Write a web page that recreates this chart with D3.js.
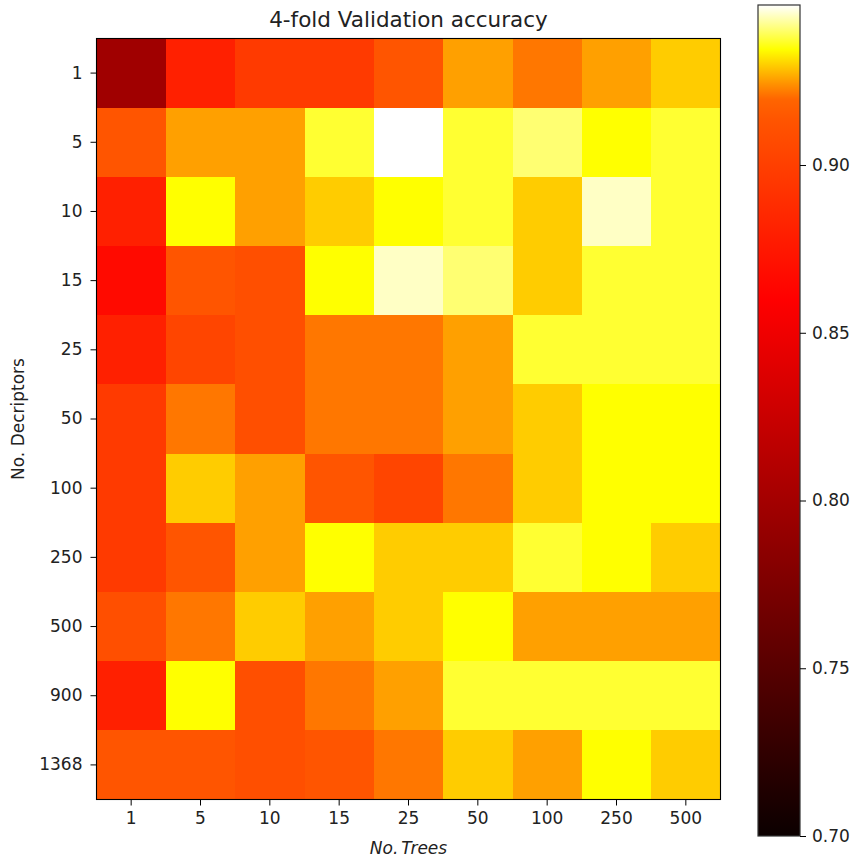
<!DOCTYPE html>
<html>
<head>
<meta charset="utf-8">
<script src="https://cdn.jsdelivr.net/npm/d3@7"></script>
<style>
  html, body { margin: 0; padding: 0; background: #fff; }
  svg { display: block; font-family: "DejaVu Sans", sans-serif; }
</style>
</head>
<body>
<svg id="chart" width="857" height="863"></svg>
<script>
// Number of trees (columns) and number of descriptors (rows)
const trees = ["1", "5", "10", "15", "25", "50", "100", "250", "500"];
const descriptors = ["1", "5", "10", "15", "25", "50", "100", "250", "500", "900", "1368"];

// Mean 4-fold validation accuracy, one row per descriptor count
const accRow1    = [0.7977, 0.8802, 0.8966, 0.8966, 0.9136, 0.9255, 0.9214, 0.9255, 0.9296];
const accRow5    = [0.9136, 0.9255, 0.9255, 0.9371, 0.9477, 0.9371, 0.9404, 0.9345, 0.9371];
const accRow10   = [0.8802, 0.9345, 0.9255, 0.9296, 0.9345, 0.9371, 0.9296, 0.9447, 0.9371];
const accRow15   = [0.8663, 0.9136, 0.9098, 0.9345, 0.9447, 0.9404, 0.9296, 0.9371, 0.9371];
const accRow25   = [0.8802, 0.9035, 0.9098, 0.9214, 0.9214, 0.9255, 0.9371, 0.9371, 0.9371];
const accRow50   = [0.8966, 0.9214, 0.9098, 0.9214, 0.9214, 0.9255, 0.9296, 0.9345, 0.9345];
const accRow100  = [0.8966, 0.9296, 0.9255, 0.9136, 0.9035, 0.9214, 0.9296, 0.9345, 0.9345];
const accRow250  = [0.8966, 0.9136, 0.9255, 0.9345, 0.9296, 0.9296, 0.9371, 0.9345, 0.9296];
const accRow500  = [0.9098, 0.9214, 0.9296, 0.9255, 0.9296, 0.9345, 0.9255, 0.9255, 0.9255];
const accRow900  = [0.8802, 0.9345, 0.9098, 0.9214, 0.9255, 0.9371, 0.9371, 0.9371, 0.9371];
const accRow1368 = [0.9136, 0.9136, 0.9098, 0.9136, 0.9214, 0.9296, 0.9255, 0.9345, 0.9296];
const accuracy = [accRow1, accRow5, accRow10, accRow15, accRow25, accRow50,
                  accRow100, accRow250, accRow500, accRow900, accRow1368];

// Colour bar range and ticks
const vMin = 0.70, vMax = 0.9477;
const cbTicks = [0.70, 0.75, 0.80, 0.85, 0.90];

// "hot"-style colour ramp anchored at accuracy values
const rampValues = [0.70, 0.86, 0.9136, 0.9196, 0.9240, 0.9285, 0.9345, 0.9477];
const rampColors = ["#0b0000", "#ff0000", "#ff5500", "#ff6500", "#ff9000", "#ffc000", "#ffff00", "#ffffff"];

const color = d3.scaleLinear().domain(rampValues).range(rampColors)
  .interpolate(d3.interpolateRgb).clamp(true);

const svg = d3.select("#chart");
const textColor = "#222";

// Heatmap area
const plotLeft = 96.5, plotRight = 720.5, plotTop = 38.5, plotBottom = 799.5;
const x = d3.scaleBand().domain(trees).range([plotLeft, plotRight]);
const y = d3.scaleBand().domain(descriptors).range([plotTop, plotBottom]);

const cells = [];
descriptors.forEach((d, i) => trees.forEach((t, j) => cells.push({ d, t, v: accuracy[i][j] })));

svg.append("g")
  .attr("shape-rendering", "crispEdges")
  .selectAll("rect").data(cells).join("rect")
  .attr("x", c => x(c.t))
  .attr("y", c => y(c.d))
  .attr("width", x.bandwidth() + 0.5)
  .attr("height", y.bandwidth() + 0.5)
  .attr("fill", c => color(c.v));

// Frame
svg.append("rect")
  .attr("x", plotLeft).attr("y", plotTop)
  .attr("width", plotRight - plotLeft).attr("height", plotBottom - plotTop)
  .attr("fill", "none").attr("stroke", "#000").attr("stroke-width", 1.1);

// Axes
const tickFont = 17;
const xAxis = svg.append("g")
  .attr("transform", `translate(0,${plotBottom})`)
  .call(d3.axisBottom(x).tickSize(6).tickPadding(6));
const yAxis = svg.append("g")
  .attr("transform", `translate(${plotLeft},0)`)
  .call(d3.axisLeft(y).tickSize(6).tickPadding(8));
[xAxis, yAxis].forEach(g => {
  g.select(".domain").remove();
  g.selectAll(".tick line").attr("stroke", "#000").attr("stroke-width", 1);
  g.selectAll(".tick text").attr("fill", textColor)
    .style("font-size", tickFont + "px").style("font-family", "DejaVu Sans");
});

// Title and axis labels
svg.append("text")
  .attr("x", (plotLeft + plotRight) / 2).attr("y", 27)
  .attr("text-anchor", "middle").attr("fill", textColor)
  .style("font-size", "21.5px")
  .text("4-fold Validation accuracy");

const xl = svg.append("text")
  .attr("x", (plotLeft + plotRight) / 2).attr("y", 854)
  .attr("text-anchor", "middle").attr("fill", textColor)
  .style("font-size", "17px").style("font-style", "italic");
xl.append("tspan").text("No.");
xl.append("tspan").attr("dx", 3).text("Trees");

svg.append("text")
  .attr("transform", `translate(24,${(plotTop + plotBottom) / 2}) rotate(-90)`)
  .attr("text-anchor", "middle").attr("fill", textColor)
  .style("font-size", "17px")
  .text("No. Decriptors");

// Colour bar
const cbLeft = 758, cbRight = 800, cbTop = 5, cbBottom = 836;
const cbY = d3.scaleLinear().domain([vMin, vMax]).range([cbBottom, cbTop]);

const defs = svg.append("defs");
const grad = defs.append("linearGradient").attr("id", "cbGrad")
  .attr("x1", 0).attr("y1", 1).attr("x2", 0).attr("y2", 0);
grad.selectAll("stop").data(rampValues).join("stop")
  .attr("offset", v => (v - vMin) / (vMax - vMin))
  .attr("stop-color", v => color(v));

svg.append("rect")
  .attr("x", cbLeft).attr("y", cbTop)
  .attr("width", cbRight - cbLeft).attr("height", cbBottom - cbTop)
  .attr("fill", "url(#cbGrad)")
  .attr("stroke", "#333").attr("stroke-width", 1.2);

const cbAxis = svg.append("g")
  .attr("transform", `translate(${cbRight},0)`)
  .call(d3.axisRight(cbY).tickValues(cbTicks).tickFormat(d3.format(".2f")).tickSize(6).tickPadding(6));
cbAxis.select(".domain").remove();
cbAxis.selectAll(".tick line").attr("stroke", "#000");
cbAxis.selectAll(".tick text").attr("fill", textColor)
  .style("font-size", tickFont + "px").style("font-family", "DejaVu Sans");
</script>
</body>
</html>
